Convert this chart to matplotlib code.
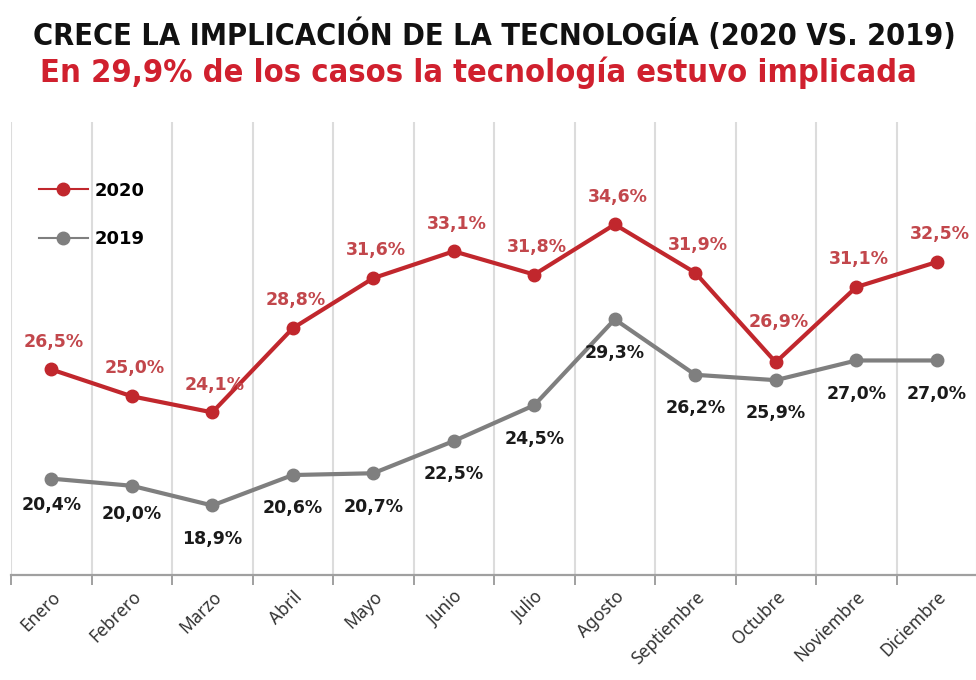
import numpy as np
import matplotlib
matplotlib.use("Agg")
import matplotlib.pyplot as plt
from matplotlib.lines import Line2D
from matplotlib import font_manager

# data
months = ["Enero", "Febrero", "Marzo", "Abril", "Mayo", "Junio", "Julio",
          "Agosto", "Septiembre", "Octubre", "Noviembre", "Diciembre"]
v2020 = [26.5, 25.0, 24.1, 28.8, 31.6, 33.1, 31.8, 34.6, 31.9, 26.9, 31.1, 32.5]
v2019 = [20.4, 20.0, 18.9, 20.6, 20.7, 22.5, 24.5, 29.3, 26.2, 25.9, 27.0, 27.0]

RED = "#c1272d"
RED_TXT = "#c2474c"
GREY = "#7f7f7f"

# narrow font for the headline, if there is one
cond = [f.name for f in font_manager.fontManager.ttflist
        if f.stretch in ("condensed", "semi-condensed", "extra-condensed", 700, 600, 500)
        or "Condensed" in f.name or "Narrow" in f.name]
head_family = cond[0] if cond else "DejaVu Sans"

x = np.arange(len(months))

fig = plt.figure(figsize=(9.76, 6.8), dpi=100)
ax = fig.add_axes([11/976, 0.154, 966/976, 0.666])

ax.plot(x, v2020, color=RED, lw=3, marker="o", ms=9, zorder=3)
ax.plot(x, v2019, color=GREY, lw=3, marker="o", ms=9, zorder=3)

# label offsets (points)
up = [20] * 12
up[9] = 29
down = [-24] * 12
down[0] = -19
down[1] = -20

for i in range(len(months)):
    ax.annotate(f"{v2020[i]:.1f}%".replace(".", ","), (x[i], v2020[i]),
                xytext=(2, up[i]), textcoords="offset points",
                ha="center", va="center", fontsize=12.5, fontweight="bold",
                color=RED_TXT, zorder=4)
    ax.annotate(f"{v2019[i]:.1f}%".replace(".", ","), (x[i], v2019[i]),
                xytext=(0, down[i]), textcoords="offset points",
                ha="center", va="center", fontsize=12.5, fontweight="bold",
                color="#1a1a1a", zorder=4)

ax.set_xlim(-0.5, 11.5)
ax.set_ylim(15, 40.3)
ax.set_yticks([])
for s in ["top", "right", "left"]:
    ax.spines[s].set_visible(False)
ax.spines["bottom"].set_color("#a0a0a0")
ax.spines["bottom"].set_linewidth(1.6)

ax.set_xticks(np.arange(-0.5, 12, 1), minor=True)
ax.grid(which="minor", axis="x", color="#dcdcdc", lw=1.5)
ax.tick_params(axis="x", which="minor", length=7, width=1.4, color="#a0a0a0")
ax.set_xticks(x)
ax.set_xticklabels(months, rotation=45, ha="right", va="top",
                   rotation_mode="anchor", fontsize=12.5, color="#333333",
                   family=["Noto Sans", "DejaVu Sans"])
ax.tick_params(axis="x", which="major", length=0, pad=9)

handles = [Line2D([], [], color=RED, lw=1.5, marker="o", ms=9),
           Line2D([], [], color=GREY, lw=1.5, marker="o", ms=9)]
leg = ax.legend(handles, ["2020", "2019"], loc="upper left",
                bbox_to_anchor=(0.012, 0.905), frameon=False,
                prop={"weight": "bold", "size": 13}, handlelength=2.7,
                labelspacing=1.7, handletextpad=0.4)

fig.text(0.507, 0.9485, "CRECE LA IMPLICACIÓN DE LA TECNOLOGÍA (2020 VS. 2019)",
         ha="center", va="center", fontsize=22, fontweight="bold", color="#111111",
         family=[head_family, "DejaVu Sans"], fontstretch="condensed")
fig.text(0.49, 0.8926, "En 29,9% de los casos la tecnología estuvo implicada",
         ha="center", va="center", fontsize=23.4, fontweight="bold", color="#d0202e",
         family=[head_family, "DejaVu Sans"], fontstretch="condensed")

fig.savefig("out.png", dpi=100)
